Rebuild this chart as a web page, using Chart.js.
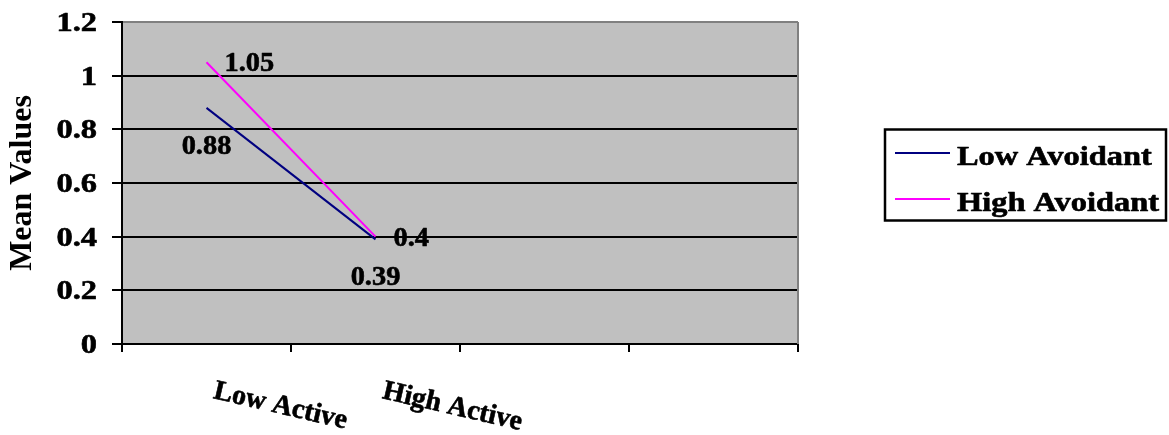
<!DOCTYPE html>
<html>
<head>
<meta charset="utf-8">
<script src="https://cdn.jsdelivr.net/npm/chart.js@4/dist/chart.umd.min.js"></script>
<style>
  html, body { margin: 0; padding: 0; background: #ffffff; }
  #wrap { width: 1169px; height: 435px; position: relative; }
</style>
</head>
<body>
<div id="wrap"><canvas id="chart" width="1169" height="435"></canvas></div>
<script>
// Categories along the x axis (the last two slots are left empty)
const categories = ["Low Active", "High Active", "", ""];

// Series values (mean values per activity level)
const lowAvoidant = [0.88, 0.39, null, null];
const highAvoidant = [1.05, 0.4, null, null];

// Value axis tick labels
const yTicks = [0, 0.2, 0.4, 0.6, 0.8, 1, 1.2];

const seriesNames = ["Low Avoidant", "High Avoidant"];

const SERIF = '"Liberation Serif", "Times New Roman", serif';

// Text styles: size in px and horizontal widening factor
const TICK_TEXT = { size: 27, stretch: 1.2 };
const CATEGORY_TEXT = { size: 28, stretch: 1.0 };
const VALUE_TEXT = { size: 27, stretch: 1.05 };
const LEGEND_TEXT = { size: 27, stretch: 1.2 };

function drawText(ctx, text, x, y, align, style, rotation) {
  ctx.save();
  ctx.translate(x, y);
  ctx.scale(style.stretch, 1);
  if (rotation) ctx.rotate(rotation);
  ctx.font = 'bold ' + style.size + 'px ' + SERIF;
  ctx.fillStyle = '#000000';
  ctx.strokeStyle = '#000000';
  ctx.lineWidth = 0.6;
  ctx.lineJoin = 'round';
  ctx.textAlign = align;
  ctx.textBaseline = 'alphabetic';
  ctx.fillText(text, 0, 0);
  ctx.strokeText(text, 0, 0);
  ctx.restore();
}

// Where each series places its value labels relative to the point
const labelPlacement = [
  { align: 'center', dx: 0, dy: 46 },
  { align: 'left', dx: 18, dy: 9 }
];

const plotDecor = {
  id: 'plotDecor',
  beforeDraw(chart) {
    const { ctx, chartArea: a } = chart;
    ctx.save();
    ctx.fillStyle = '#ffffff';
    ctx.fillRect(0, 0, chart.width, chart.height);
    ctx.fillStyle = '#C0C0C0';
    ctx.fillRect(a.left, a.top, a.right - a.left, a.bottom - a.top);
    ctx.restore();
  },
  beforeDatasetsDraw(chart) {
    const { ctx, chartArea: a } = chart;
    ctx.save();
    ctx.strokeStyle = '#808080';
    ctx.lineWidth = 2;
    ctx.beginPath();
    ctx.moveTo(a.right, a.top);
    ctx.lineTo(a.right, a.bottom);
    ctx.stroke();
    ctx.restore();
  },
  afterDraw(chart) {
    const ctx = chart.ctx;
    const xs = chart.scales.x;
    const ys = chart.scales.y;

    // value axis labels
    yTicks.forEach(v => {
      drawText(ctx, String(v), 97, ys.getPixelForValue(v) + 9, 'right', TICK_TEXT, 0);
    });

    // category labels, slanted
    categories.forEach((c, i) => {
      if (!c) return;
      drawText(ctx, c, xs.getPixelForValue(i) + 6, 398, 'left', CATEGORY_TEXT, 13 * Math.PI / 180);
    });

    // value labels beside each point
    chart.data.datasets.forEach((ds, di) => {
      const meta = chart.getDatasetMeta(di);
      const p = labelPlacement[di];
      ds.data.forEach((v, i) => {
        if (v === null) return;
        const el = meta.data[i];
        drawText(ctx, String(v), el.x + p.dx, el.y + p.dy, p.align, VALUE_TEXT, 0);
      });
    });

    // legend box
    ctx.save();
    ctx.strokeStyle = '#000000';
    ctx.lineWidth = 2.5;
    ctx.strokeRect(885, 129.5, 281, 91);
    chart.data.datasets.forEach((ds, di) => {
      const y = 153 + di * 46;
      ctx.strokeStyle = ds.borderColor;
      ctx.lineWidth = 2;
      ctx.beginPath();
      ctx.moveTo(895, y);
      ctx.lineTo(950, y);
      ctx.stroke();
      drawText(ctx, ds.label, 957, y + 12, 'left', LEGEND_TEXT, 0);
    });
    ctx.restore();
  }
};

new Chart(document.getElementById('chart'), {
  type: 'line',
  data: {
    labels: categories,
    datasets: [
      {
        label: seriesNames[0],
        data: lowAvoidant,
        borderColor: '#000080',
        backgroundColor: '#000080',
        borderWidth: 2,
        pointRadius: 0,
        tension: 0,
        spanGaps: false
      },
      {
        label: seriesNames[1],
        data: highAvoidant,
        borderColor: '#FF00FF',
        backgroundColor: '#FF00FF',
        borderWidth: 2,
        pointRadius: 0,
        tension: 0,
        spanGaps: false
      }
    ]
  },
  options: {
    responsive: false,
    animation: false,
    devicePixelRatio: 1,
    layout: { padding: { top: 22, right: 371, left: 0, bottom: 0 } },
    plugins: {
      legend: { display: false },
      tooltip: { enabled: false }
    },
    scales: {
      x: {
        type: 'category',
        offset: true,
        grid: {
          offset: true,
          drawOnChartArea: false,
          drawTicks: true,
          tickLength: 8,
          color: '#000000',
          lineWidth: 2
        },
        border: { color: '#000000', width: 2 },
        ticks: { color: 'rgba(0,0,0,0)', font: { size: 10 }, maxRotation: 0, autoSkip: false },
        afterFit(scale) { scale.height = 91; }
      },
      y: {
        min: 0,
        max: 1.2,
        ticks: { stepSize: 0.2, color: 'rgba(0,0,0,0)', font: { size: 10 } },
        grid: {
          color: ctx => (ctx.tick && ctx.tick.value >= 1.2 ? '#808080' : '#000000'),
          tickColor: '#000000',
          lineWidth: 2,
          tickLength: 10
        },
        border: { color: '#000000', width: 2 },
        title: {
          display: true,
          text: 'Mean Values',
          color: '#000000',
          font: { family: SERIF, size: 32, weight: 'bold' },
          padding: { top: 4, bottom: 0 }
        },
        afterFit(scale) { scale.width = 122; }
      }
    }
  },
  plugins: [plotDecor]
});
</script>
</body>
</html>
